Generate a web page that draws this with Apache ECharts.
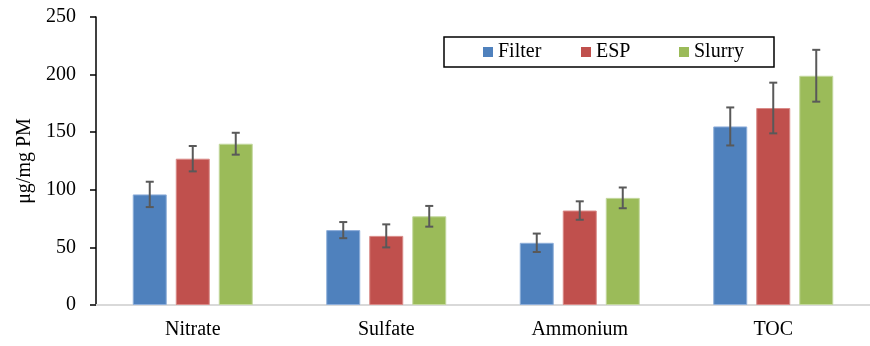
<!DOCTYPE html>
<html>
<head>
<meta charset="utf-8">
<script src="https://cdn.jsdelivr.net/npm/echarts@6/dist/echarts.min.js"></script>
<style>
  html, body { margin: 0; padding: 0; background: #fff; }
  #chart { width: 870px; height: 346px; }
</style>
</head>
<body>
<div id="chart"></div>
<script>
// Concentrations (µg/mg PM) by species and collection method
const categories = ['Nitrate', 'Sulfate', 'Ammonium', 'TOC'];
const seriesNames = ['Filter', 'ESP', 'Slurry'];
const filterValues = [96, 65, 54, 155];
const espValues = [127, 60, 82, 171];
const slurryValues = [140, 77, 93, 199];
// Standard deviations for the error bars
const filterErr = [11, 7, 8, 16.5];
const espErr = [11, 10, 8, 22];
const slurryErr = [9.5, 9, 9, 22.5];
const yTicks = [0, 50, 100, 150, 200, 250];

const values = [filterValues, espValues, slurryValues];
const errors = [filterErr, espErr, slurryErr];
const colors = ['#4F81BD', '#C0504D', '#9BBB59'];
const borders = ['#8EAEDA', '#D98A88', '#C3D89E'];

const BAR_W = 34;
const BAR_GAP = 9;
const FONT = '"Liberation Serif", "Times New Roman", serif';

const chart = echarts.init(document.getElementById('chart'), null, { renderer: 'canvas' });

const barSeries = seriesNames.map((name, i) => ({
  name: name,
  type: 'bar',
  data: values[i],
  barWidth: BAR_W,
  barGap: (BAR_GAP / BAR_W * 100).toFixed(1) + '%',
  itemStyle: { color: colors[i], borderColor: borders[i], borderWidth: 1 },
  z: 2
}));

const errorSeries = seriesNames.map((name, i) => ({
  type: 'custom',
  name: name + ' error',
  z: 5,
  silent: true,
  data: values[i].map((v, k) => [k, v - errors[i][k], v + errors[i][k]]),
  renderItem: function (params, api) {
    const k = api.value(0);
    const lo = api.coord([k, api.value(1)]);
    const hi = api.coord([k, api.value(2)]);
    const x = lo[0] + (i - 1) * (BAR_W + BAR_GAP);
    const cap = 4;
    const style = { stroke: '#595959', lineWidth: 2 };
    return {
      type: 'group',
      children: [
        { type: 'line', shape: { x1: x, y1: lo[1], x2: x, y2: hi[1] }, style: style },
        { type: 'line', shape: { x1: x - cap, y1: lo[1], x2: x + cap, y2: lo[1] }, style: style },
        { type: 'line', shape: { x1: x - cap, y1: hi[1], x2: x + cap, y2: hi[1] }, style: style }
      ]
    };
  }
}));

chart.setOption({
  animation: false,
  textStyle: { fontFamily: FONT },
  grid: { left: 96, top: 17, width: 787, height: 288 },
  legend: {
    data: seriesNames,
    left: 444,
    top: 37,
    orient: 'horizontal',
    padding: [5, 10, 5, 39],
    itemGap: 13,
    itemWidth: 10,
    itemHeight: 10,
    icon: 'rect',
    itemStyle: { borderWidth: 0 },
    borderColor: '#000',
    borderWidth: 1.5,
    backgroundColor: '#fff',
    borderRadius: 0,
    textStyle: { fontFamily: FONT, fontSize: 20, color: '#000', width: 70, lineHeight: 20 }
  },
  xAxis: {
    type: 'category',
    data: categories,
    axisLine: { show: true, lineStyle: { color: '#D9D9D9', width: 2 } },
    axisTick: { show: false },
    axisLabel: { fontFamily: FONT, fontSize: 20, color: '#000', margin: 15 }
  },
  yAxis: {
    type: 'value',
    min: yTicks[0],
    max: yTicks[yTicks.length - 1],
    interval: 50,
    name: 'μg/mg PM',
    nameLocation: 'middle',
    nameGap: 61,
    nameTextStyle: { fontFamily: FONT, fontSize: 20, color: '#000' },
    splitLine: { show: false },
    axisLine: { show: true, lineStyle: { color: '#000', width: 1.5 } },
    axisTick: { show: true, inside: false, length: 6, lineStyle: { color: '#000', width: 1.5 } },
    axisLabel: { fontFamily: FONT, fontSize: 20, color: '#000', margin: 20 }
  },
  series: barSeries.concat(errorSeries)
});
</script>
</body>
</html>
